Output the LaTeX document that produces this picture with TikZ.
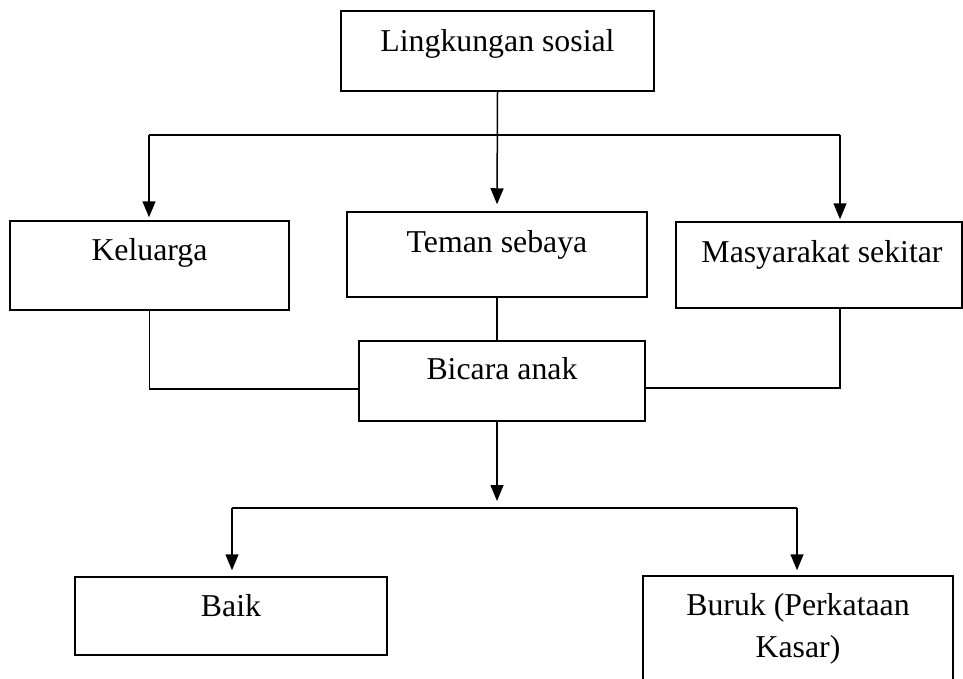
\documentclass[tikz,border=0pt]{standalone}
\usepackage{fontspec}
\setmainfont{Liberation Serif}
\usetikzlibrary{arrows.meta}
\tikzset{
  box/.style={draw, line width=1.5pt, inner sep=0pt},
  txt/.style={anchor=base, inner sep=0pt, font=\fontsize{31.8}{42}\selectfont},
  link/.style={line width=1.5pt},
}
\begin{document}
\begin{tikzpicture}[x=1pt, y=-1pt, >={Triangle[length=16pt,width=13pt]}]
\clip (0,0) rectangle (963,678);
% boxes
\node[box, minimum width=313pt, minimum height=80pt] (sosial) at (497.5,51) {};
\node[box, minimum width=279pt, minimum height=89pt] (keluarga) at (149.5,265.5) {};
\node[box, minimum width=300pt, minimum height=85pt] (teman) at (497,254.5) {};
\node[box, minimum width=286pt, minimum height=86pt] (masyarakat) at (819,265) {};
\node[box, minimum width=286pt, minimum height=80pt] (bicara) at (502,381) {};
\node[box, minimum width=312pt, minimum height=78pt] (baik) at (231,616) {};
\node[box, minimum width=310pt, minimum height=124pt] (buruk) at (798,638) {};
% texts
\node[txt] (sosial-t) at ([yshift=-41pt]sosial.north) {Lingkungan sosial};
\node[txt] (keluarga-t) at ([yshift=-40pt]keluarga.north) {Keluarga};
\node[txt] (teman-t) at ([yshift=-41pt]teman.north) {Teman sebaya};
\node[txt] (masyarakat-t) at ([xshift=3pt,yshift=-41pt]masyarakat.north) {Masyarakat sekitar};
\node[txt] (bicara-t) at ([yshift=-39pt]bicara.north) {Bicara anak};
\node[txt] (baik-t) at ([yshift=-40pt]baik.north) {Baik};
\node[txt, align=center] (buruk-t) at ([yshift=-82pt]buruk.north) {Buruk (Perkataan\\Kasar)};
% upper branch
\coordinate (bl) at (149,135);
\coordinate (br) at (840,135);
\draw[link] (bl) -- (br);
\draw[link, ->, shorten >=3pt] (bl) -- (bl |- keluarga.north);
\draw[link, ->, shorten >=7pt] (sosial.south) -- (teman.north);
\draw[link, ->, shorten >=2pt] (br) -- (br |- masyarakat.north);
% into bicara anak
\draw[link] (keluarga.south) |- ([yshift=-8pt]bicara.west);
\draw[link] (teman.south) -- (teman.south |- bicara.north);
\draw[link] (masyarakat.south -| br) |- ([yshift=-7pt]bicara.east);
% lower branch
\coordinate (bm) at (497,508);
\coordinate (ll) at (232,508);
\coordinate (lr) at (797,508);
\draw[link, ->] (bicara.south -| bm) -- ([yshift=7pt]bm);
\draw[link] (ll) -- (lr);
\draw[link, ->, shorten >=6pt] (ll) -- (ll |- baik.north);
\draw[link, ->, shorten >=5pt] (lr) -- (lr |- buruk.north);
\end{tikzpicture}
\end{document}
